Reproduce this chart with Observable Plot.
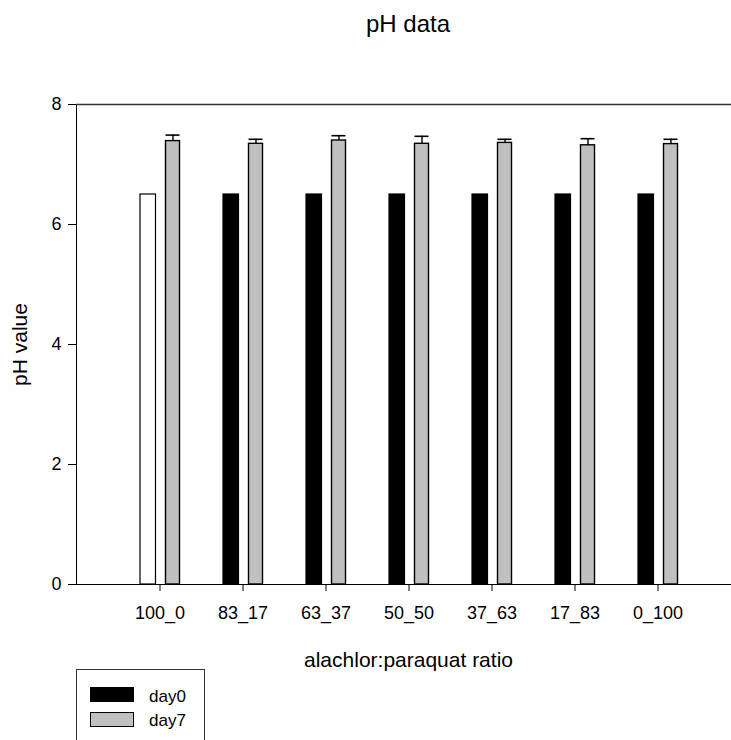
<!DOCTYPE html>
<html>
<head>
<meta charset="utf-8">
<script src="https://cdn.jsdelivr.net/npm/d3@7"></script>
<script src="https://cdn.jsdelivr.net/npm/@observablehq/plot@0.6"></script>
<style>
  html, body { margin: 0; padding: 0; background: #fff; overflow: hidden; }
  #wrap { position: relative; width: 731px; height: 740px; overflow: hidden;
          font-family: "Liberation Sans", Arial, sans-serif; color: #000; background: #fff; }
  #title { position: absolute; top: 12px; left: 408px; transform: translateX(-50%);
           font-size: 24px; line-height: 24px; white-space: nowrap; }
  #chart { position: absolute; top: 50px; left: 0; width: 740px; }
  #chart svg { max-width: none !important; display: block; }
  g[aria-label="x-axis label"] text, g[aria-label="y-axis label"] text { font-size: 21px; }
  #legend { position: absolute; left: 76px; top: 669px; width: 129px; height: 100px;
            border: 1.5px solid #333; box-sizing: border-box; }
  .sw { position: absolute; left: 13px; width: 44px; height: 15px; box-sizing: border-box;
        border: 1.5px solid #000; }
  .lab { position: absolute; left: 72px; font-size: 17px; line-height: 17px; white-space: nowrap; }
</style>
</head>
<body>
<div id="wrap">
  <div id="title">pH data</div>
  <div id="chart"></div>
  <div id="legend"></div>
</div>
<script>
// ---- data ----
const categories = ["100_0", "83_17", "63_37", "50_50", "37_63", "17_83", "0_100"];
const seriesNames = ["day0", "day7"];
const day0 = [6.5, 6.5, 6.5, 6.5, 6.5, 6.5, 6.5];
const day7 = [7.39, 7.345, 7.40, 7.345, 7.36, 7.32, 7.34];
const day7Err = [0.10, 0.075, 0.08, 0.125, 0.06, 0.11, 0.08];
const yTicks = [0, 2, 4, 6, 8];
const title = "pH data";
const xLabel = "alachlor:paraquat ratio";
const yLabel = "pH value";

// ---- table ----
const rows0 = categories.map((c, i) => ({category: c, series: seriesNames[0], value: day0[i]}));
const rows7 = categories.map((c, i) => ({category: c, series: seriesNames[1], value: day7[i], err: day7Err[i]}));
const seriesFill = {day0: "#000000", day7: "#c0c0c0"};

document.getElementById("title").textContent = title;

const chart = Plot.plot({
  width: 740,
  height: 626,
  marginTop: 54,
  marginBottom: 92,
  marginLeft: 76,
  marginRight: 0,
  style: {fontFamily: "Liberation Sans, Arial, sans-serif", fontSize: "18px", color: "#000", background: "transparent"},
  x: {type: "band", domain: categories, paddingInner: 0, paddingOuter: 0.5},
  y: {domain: [0, 8]},
  marks: [
    Plot.barY(rows0, {
      x: "category", y: "value",
      fill: d => d.category === categories[0] ? "#ffffff" : seriesFill.day0,
      stroke: "#000", strokeWidth: 1.2, insetLeft: 22, insetRight: 45.5
    }),
    Plot.barY(rows7, {
      x: "category", y: "value", fill: seriesFill.day7,
      stroke: "#000", strokeWidth: 1.4, insetLeft: 47.5, insetRight: 21.5
    }),
    Plot.ruleX(rows7, {x: "category", y1: "value", y2: d => d.value + d.err, dx: 13, stroke: "#000", strokeWidth: 1.4}),
    Plot.tickY(rows7, {x: "category", y: d => d.value + d.err, insetLeft: 47.5, insetRight: 21.5, stroke: "#000", strokeWidth: 1.6}),
    Plot.frame({stroke: "#000", strokeWidth: 1}),
    Plot.ruleY([8], {stroke: "#333", strokeWidth: 1.6}),
    Plot.axisY({ticks: yTicks, tickSize: 8, tickPadding: 7, label: yLabel, labelAnchor: "center", labelOffset: 64, labelArrow: "none"}),
    Plot.axisX({tickSize: 7, tickPadding: 15, label: xLabel, labelAnchor: "center", labelOffset: 82, labelArrow: "none"})
  ]
});
document.getElementById("chart").appendChild(chart);

// ---- legend ----
const legend = document.getElementById("legend");
seriesNames.forEach((s, i) => {
  const sw = document.createElement("div");
  sw.className = "sw";
  sw.style.top = (17 + i * 25) + "px";
  sw.style.background = seriesFill[s];
  legend.appendChild(sw);
  const lab = document.createElement("div");
  lab.className = "lab";
  lab.style.top = (18 + i * 24) + "px";
  lab.textContent = s;
  legend.appendChild(lab);
});
</script>
</body>
</html>
